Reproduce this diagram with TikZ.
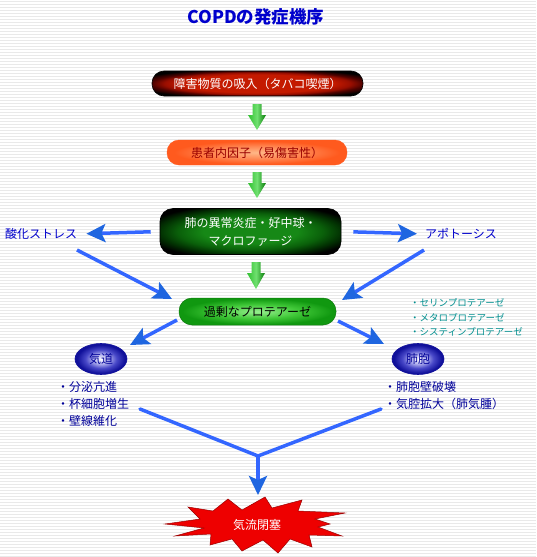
\documentclass[tikz,border=0pt]{standalone}
\usepackage{fontspec}
\setmainfont{Noto Sans CJK JP}
\newfontfamily\jp{Noto Sans CJK JP}
\usetikzlibrary{arrows.meta,calc,shapes.geometric}
\definecolor{stripe}{HTML}{E9E9E9}
\definecolor{lineblue}{HTML}{3366FF}
\definecolor{tipblue}{HTML}{1F66E0}
\definecolor{titleblue}{HTML}{0000CC}
\definecolor{navy}{HTML}{000099}
\definecolor{tealtxt}{HTML}{008F8F}
\definecolor{redA}{HTML}{C41A00}
\definecolor{redB}{HTML}{9A0E00}
\definecolor{redC}{HTML}{500200}
\definecolor{orA}{HTML}{FFB888}
\definecolor{orB}{HTML}{FF8550}
\definecolor{orC}{HTML}{FF5A1E}
\definecolor{gdA}{HTML}{168816}
\definecolor{gdB}{HTML}{0A600A}
\definecolor{gdC}{HTML}{023202}
\definecolor{glA}{HTML}{98EE90}
\definecolor{glB}{HTML}{40C838}
\definecolor{glC}{HTML}{109810}
\definecolor{gaL}{HTML}{30C030}
\definecolor{gaM}{HTML}{70E070}
\definecolor{gaR}{HTML}{087A08}
\definecolor{elA}{HTML}{FFFFFF}
\definecolor{elB}{HTML}{B8B8F0}
\definecolor{elC}{HTML}{4848C8}
\definecolor{elD}{HTML}{10109A}
\definecolor{burstred}{HTML}{EE0000}
\definecolor{darkred}{HTML}{990000}
\pgfdeclareradialshading{redcap}{\pgfpoint{0bp}{0bp}}{color(0bp)=(redA); color(18bp)=(redA); color(22bp)=(redB); color(25bp)=(redC); color(30bp)=(black); color(72bp)=(black)}
\pgfdeclareradialshading{orcap}{\pgfpoint{0bp}{0bp}}{color(0bp)=(orA); color(13bp)=(orB); color(23bp)=(orC); color(72bp)=(orC)}
\pgfdeclareradialshading{gdcap}{\pgfpoint{0bp}{0bp}}{color(0bp)=(gdA); color(13bp)=(gdA); color(20bp)=(gdB); color(25bp)=(gdC); color(30bp)=(black); color(72bp)=(black)}
\pgfdeclareradialshading{glcap}{\pgfpoint{0bp}{0bp}}{color(0bp)=(glA); color(13bp)=(glB); color(24bp)=(glC); color(72bp)=(glC)}
\pgfdeclareradialshading{elcap}{\pgfpoint{0bp}{0bp}}{color(0bp)=(elA); color(7bp)=(elB); color(15bp)=(elC); color(23bp)=(elD); color(72bp)=(elD)}
\tikzset{
  capsule/.style={shading=#1, inner sep=0pt, align=center, font=\fontsize{12}{15}\selectfont},
  barrow/.style={draw=lineblue, line width=3.5pt, -{Stealth[length=19pt,width=18pt,inset=4pt,color=tipblue]}},
  bline/.style={draw=lineblue, line width=3.5pt},
  garrow/.style={left color=gaL, right color=gaR, middle color=gaM, draw=none},
  lbl/.style={inner sep=0pt, font=\fontsize{12}{15}\selectfont},
  listtxt/.style={inner sep=0pt, align=left, font=\fontsize{12}{17}\selectfont, text=navy},
  organ/.style={ellipse, shading=elcap, draw=elD, line width=0.6pt, minimum width=52pt, minimum height=31pt, inner sep=0pt, font=\fontsize{12}{14}\selectfont, text=navy}
}
\begin{document}
\begin{tikzpicture}[x=1pt,y=-1pt]
\useasboundingbox (0,0) rectangle (536,557);
\fill[white] (0,0) rectangle (536,557);
\foreach \yy in {1,4,...,556} \fill[stripe] (0,\yy) rectangle (536,\yy+1);

\node[text=titleblue, font=\fontsize{17.5}{19}\selectfont\bfseries] (title) at (256,17) {COPDの発症機序};

\node[capsule=redcap, draw=black, line width=0.6pt, rounded corners=12pt, minimum width=211pt, minimum height=25pt, text=white] (b1) at (257.5,83.5) {障害物質の吸入（タバコ喫煙）};
\node[capsule=orcap, draw=orC, line width=0.4pt, rounded corners=12pt, minimum width=180pt, minimum height=25pt, text=darkred] (b2) at (257,152.5) {患者内因子（易傷害性）};
\node[capsule=gdcap, draw=black, line width=0.6pt, rounded corners=13pt, minimum width=181pt, minimum height=46pt, text=white, font=\fontsize{12}{18}\selectfont] (b3) at (250.5,231.5) {肺の異常炎症・好中球・\\マクロファージ};
\node[capsule=glcap, draw=glC!80!black, line width=0.5pt, rounded corners=13pt, minimum width=157pt, minimum height=27pt, text=black] (b4) at (257.5,311.5) {過剰なプロテアーゼ};

% green block arrows
\foreach \xx/\ya/\yb in {257/104/130, 257/172/198, 256/262/289}{
  \shade[garrow] (\xx-4.5,\ya) -- (\xx+4.5,\ya) -- (\xx+4.5,\ya+11) -- (\xx+9,\ya+11) -- (\xx,\yb) -- (\xx-9,\ya+11) -- (\xx-4.5,\ya+11) -- cycle;
}

\node[lbl, text=titleblue, anchor=west] (oxi) at (5,234) {酸化ストレス};
\node[lbl, text=titleblue, anchor=west] (apo) at (425,234) {アポトーシス};

\draw[barrow, shorten <=9pt, shorten >=9pt] (b3.west) -- (oxi.east);
\draw[barrow, shorten <=12pt, shorten >=8pt] (b3.east) -- (apo.west);

\coordinate (oxiS) at (77,250);
\coordinate (apoS) at (424,250);
\coordinate (b4NW) at (172,299);
\coordinate (b4NE) at (342,300);
\draw[barrow] (oxiS) -- (b4NW);
\draw[barrow] (apoS) -- (b4NE);

\node[organ] (aw) at (101,359) {気道};
\node[organ] (alv) at (418,359) {肺胞};

\coordinate (b4L) at (177,320);
\coordinate (b4R) at (338,321);
\coordinate (awT) at (130,345);
\coordinate (alvT) at (384,344);
\draw[barrow] (b4L) -- (awT);
\draw[barrow] (b4R) -- (alvT);

\node[inner sep=0pt, align=left, anchor=west, text=tealtxt, font=\fontsize{9.5}{14.5}\selectfont] (prot) at (410,317.5) {・セリンプロテアーゼ\\・メタロプロテアーゼ\\・システィンプロテアーゼ};

\node[listtxt, anchor=north west] (awl) at (57,381) {・分泌亢進\\・杯細胞増生\\・壁線維化};
\node[listtxt, anchor=north west] (alvl) at (384,381) {・肺胞壁破壊\\・気腔拡大（肺気腫）};

\coordinate (awE) at (140,409);
\coordinate (alvE) at (381,409);
\coordinate (join) at (258,456);
\coordinate (burstT) at (258,495);
\draw[bline, line cap=round, line join=round] (awE) -- (join) -- (alvE);
\draw[barrow] (join) -- (burstT);

\filldraw[fill=burstred, draw=red!60!black, line width=0.5pt]
 (165,524) -- (200,519) -- (188,507) -- (213,511) -- (228,499) -- (242,510) -- (265,497) -- (272,508) -- (302,500) -- (298,511) -- (345,513) -- (315,519) -- (330,524) -- (318,527) -- (342,536) -- (309,535) -- (312,547) -- (290,539) -- (278,553) -- (263,540) -- (242,551) -- (232,539) -- (210,545) -- (211,534) -- (175,536) -- (204,528) -- cycle;
\node[lbl, text=white] (burst) at (257,525) {気流閉塞};
\end{tikzpicture}
\end{document}
